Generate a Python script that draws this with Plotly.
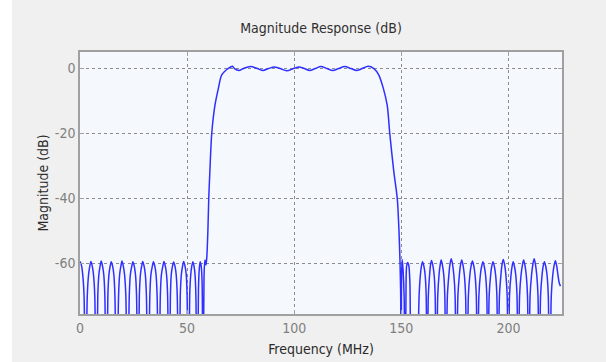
import plotly.graph_objects as go

# ---- data ----
# left stopband (MHz, dB)
stop_left_f = [0.0, 0.6, 1.2, 1.9, 2.5,
               3.4, 4.0, 4.6, 5.1, 5.7, 6.3, 6.9, 7.6,
               8.3, 8.8, 9.4, 9.9, 10.5, 11.1, 11.6, 12.3,
               13.0, 13.5, 14.1, 14.6, 15.2, 15.8, 16.3, 17.1,
               18.0, 18.5, 19.1, 19.6, 20.2, 20.8, 21.4, 22.2,
               23.0, 23.5, 24.2, 24.7, 25.3, 25.9, 26.4, 27.0,
               27.7, 28.2, 28.8, 29.3, 29.9, 30.5, 31.0, 31.8,
               32.6, 33.1, 33.8, 34.3, 34.9, 35.5, 36.0, 36.8,
               37.5, 38.0, 38.7, 39.2, 39.8, 40.4, 40.9, 41.5,
               42.2, 42.6, 43.2, 43.7, 44.3, 44.9, 45.4, 46.1,
               46.8, 47.3, 47.9, 48.4, 49.0, 49.6, 50.0, 50.6,
               51.2, 51.7, 52.2, 52.7, 53.2, 53.7, 54.1, 54.7,
               55.3, 55.7, 56.1, 56.6, 57.0, 57.4, 57.9,
               58.3, 58.8, 59.2]
stop_left_db = [-59.4, -60.4, -63.0, -70.0, -110,
                -70, -63.5, -60.8, -59.4, -60.8, -63.5, -70, -110,
                -70, -63.5, -60.8, -59.3, -60.8, -63.5, -70, -110,
                -70, -63.5, -60.8, -59.5, -60.8, -63.5, -70, -110,
                -70, -63.5, -60.8, -59.3, -60.8, -63.5, -70, -110,
                -70, -63.5, -60.8, -59.5, -60.8, -63.5, -70, -110,
                -70, -63.5, -60.8, -59.4, -60.8, -63.5, -70, -110,
                -70, -63.5, -60.8, -59.5, -60.8, -63.5, -70, -110,
                -70, -63.5, -60.8, -59.4, -60.8, -63.5, -70, -110,
                -70, -63.5, -60.8, -59.6, -60.8, -63.5, -70, -110,
                -70, -63.5, -60.8, -59.4, -60.8, -63.5, -70, -110,
                -70, -63.5, -60.8, -59.5, -60.8, -63.5, -70, -110,
                -68, -61.5, -59.5, -61.0, -66, -110,
                -64, -59.0, -60.5]

# transition + passband
pass_f = [59.7, 60.1, 60.6, 61.5, 63.0, 64.6, 66.1, 68.5, 70.1, 71.2, 72.1,
          74.2, 76.3, 79.5, 82.8, 85.4, 88.0, 90.7, 93.4, 96.5, 99.7,
          102.2, 104.7, 107.2, 109.8, 112.5, 115.3, 118.0, 120.7, 123.6,
          126.5, 129.1, 131.7, 134.5, 137.2,
          139.5, 141.6, 143.4, 144.6, 146.5, 148.1, 148.9, 149.4, 149.7, 149.9, 150.1]
pass_db = [-58.0, -50.0, -40.0, -32.0, -20.0, -11.3, -6.1, -2.0, -0.3, 0.4, 0.7,
           0.0, -0.6, 0.0, 0.6, 0.0, -0.6, 0.0, 0.5, 0.0, -0.7,
           0.0, 0.5, 0.0, -0.6, 0.0, 0.6, 0.0, -0.6, 0.0,
           0.6, 0.0, -0.6, 0.0, 0.7,
           0.0, -2.0, -6.1, -11.3, -20.0, -31.8, -40.0, -50.0, -60.0, -70.0, -110]

# right stopband
stop_right_f = [150.4, 150.8, 151.3, 151.8, 152.2,
                152.5, 153.0, 153.5, 154.0, 154.5, 155.5, 157.0, 158.3,
                158.9, 159.4, 159.9, 160.5, 161.1, 161.6, 162.0, 162.6,
                163.2, 163.6, 164.1, 164.7, 165.3, 165.8, 166.3, 167.0,
                167.6, 168.1, 168.6, 169.2, 169.8, 170.3, 170.8, 171.5,
                172.2, 172.7, 173.3, 173.9, 174.5, 175.1, 175.7, 176.4,
                177.1, 177.6, 178.2, 178.8, 179.4, 180.0, 180.6, 181.3,
                182.0, 182.6, 183.2, 183.8, 184.4, 185.0, 185.5, 186.2,
                186.9, 187.5, 188.1, 188.7, 189.3, 189.9, 190.4, 191.0,
                191.7, 192.2, 192.8, 193.4, 194.0, 194.6, 195.1, 195.8,
                196.5, 197.0, 197.6, 198.2, 198.8, 199.4, 199.9, 200.5,
                201.2, 201.7, 202.2, 202.8, 203.4, 204.0, 204.5, 205.2,
                205.9, 206.5, 207.1, 207.7, 208.3, 208.9, 209.4, 210.1,
                210.8, 211.4, 212.0, 212.6, 213.2, 213.8, 214.3, 215.0,
                215.7, 216.2, 216.8, 217.4, 218.0, 218.6, 219.2, 220.0,
                220.7, 221.3, 221.9, 222.5, 223.1, 223.7, 224.3, 225.0]
stop_right_db = [-64, -58.8, -62, -70, -110,
                 -66, -60.7, -59.7, -60.7, -66, -110, -78, -110,
                 -70, -63.5, -60.8, -59.5, -60.8, -63.5, -70, -110,
                 -70, -63.5, -60.6, -59.1, -60.6, -63.5, -70, -110,
                 -70, -63.5, -60.6, -59.0, -60.6, -63.5, -70, -110,
                 -70, -63.5, -60.3, -58.6, -60.3, -63.5, -70, -110,
                 -70, -63.5, -60.6, -59.0, -60.6, -63.5, -70, -110,
                 -70, -63.5, -60.7, -59.3, -60.7, -63.5, -70, -110,
                 -70, -63.5, -60.9, -59.5, -60.9, -63.5, -70, -110,
                 -70, -63.5, -60.9, -59.5, -60.9, -63.5, -70, -110,
                 -70, -63.5, -60.4, -58.8, -60.4, -63.5, -70, -110,
                 -70, -63.5, -60.9, -59.5, -60.9, -63.5, -70, -110,
                 -70, -63.5, -60.6, -59.0, -60.6, -63.5, -70, -110,
                 -70, -63.5, -60.3, -58.6, -60.3, -63.5, -70, -110,
                 -70, -63.5, -60.9, -59.5, -60.9, -63.5, -70, -110,
                 -70, -63.5, -60.7, -59.2, -60.7, -63.5, -66, -67.0]

freq = stop_left_f + pass_f + stop_right_f
mag = stop_left_db + pass_db + stop_right_db

x_ticks = [0, 50, 100, 150, 200]
y_ticks = [0, -20, -40, -60]

FONT = "DejaVu Sans Condensed, Liberation Sans Narrow, Arial Narrow, Liberation Sans, sans-serif"

fig = go.Figure()
fig.add_trace(go.Scatter(x=freq, y=mag, mode="lines",
                         line=dict(color="#2f2fff", width=1.5, shape="spline", smoothing=0.8),
                         hoverinfo="skip", showlegend=False))

axis_common = dict(showgrid=True, gridcolor="#8c8c8c", griddash="dot", gridwidth=1,
                   zeroline=False, showline=True, linecolor="#a0a0a0", linewidth=1.5,
                   mirror="allticks", ticks="inside", ticklen=4, tickcolor="#a0a0a0",
                   automargin=False,
                   tickfont=dict(family=FONT, size=14, color="#7f7f7f"))

fig.update_xaxes(range=[0, 225], tickvals=x_ticks, ticktext=[str(v) for v in x_ticks],
                 title=dict(text="Frequency (MHz)", standoff=10,
                            font=dict(family=FONT, size=14, color="#2a2a2a")),
                 **axis_common)
fig.update_yaxes(range=[-75.6, 5.1], tickvals=y_ticks, ticktext=[str(v) for v in y_ticks],
                 title=dict(text="Magnitude (dB)", standoff=3,
                            font=dict(family=FONT, size=14, color="#2a2a2a")),
                 **axis_common)

fig.update_layout(
    width=606, height=362,
    margin=dict(l=80, r=44, t=52, b=48, autoexpand=False),
    paper_bgcolor="#f0f0f0", plot_bgcolor="#f5f8fc",
    title=dict(text="Magnitude Response (dB)", x=0.5, xref="paper", y=1, yref="container",
               yanchor="top", pad=dict(t=23),
               font=dict(family=FONT, size=14, color="#303030")),
    shapes=[dict(type="rect", xref="paper", yref="paper", x0=-0.3, x1=-68/482,
                 y0=-0.3, y1=1.3, fillcolor="#ffffff", line=dict(width=0), layer="below")],
)

fig.write_html("out.html", config={"displayModeBar": False},
               post_script="document.body.style.margin='0';document.body.style.padding='0';"
                           "document.body.style.background='#ffffff';")
